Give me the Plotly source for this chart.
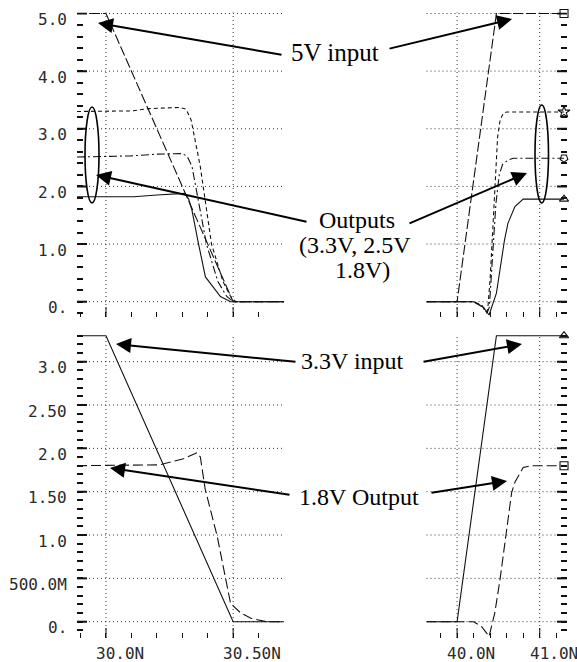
import plotly.graph_objects as go

W, H = 577, 662

# ---------------- waveform data (time in ns, voltage in V) ----------------
# falling edge around 30 ns (5 V input drive)
T5_FALL = [29.886, 30.0, 30.5, 30.70]
V5_FALL = [5.0, 5.0, 0.0, 0.0]
T33_FALL = [29.886, 30.10, 30.17, 30.29, 30.315, 30.335, 30.371, 30.415, 30.46, 30.49, 30.51, 30.70]
V33_FALL = [3.30, 3.31, 3.35, 3.37, 3.34, 3.15, 2.34, 1.00, 0.35, 0.09, 0.0, 0.0]
T25_FALL = [29.886, 30.10, 30.20, 30.30, 30.32, 30.338, 30.395, 30.44, 30.475, 30.50, 30.70]
V25_FALL = [2.51, 2.53, 2.56, 2.57, 2.52, 2.35, 1.00, 0.35, 0.09, 0.0, 0.0]
T18_FALL = [29.886, 30.11, 30.20, 30.29, 30.31, 30.325, 30.338, 30.364, 30.391, 30.45, 30.49, 30.70]
V18_FALL = [1.82, 1.82, 1.85, 1.88, 1.88, 1.78, 1.59, 1.00, 0.43, 0.09, 0.0, 0.0]

# rising edge around 40 ns (5 V input drive)
T5_RISE = [39.63, 40.0, 40.476, 41.294]
V5_RISE = [0.0, 0.0, 5.0, 5.0]
T33_RISE = [39.63, 40.2, 40.30, 40.35, 40.37, 40.40, 40.43, 40.46, 40.49, 40.52, 40.56, 40.60, 41.294]
V33_RISE = [0.0, 0.0, -0.06, -0.17, -0.15, 0.40, 1.20, 2.10, 2.85, 3.15, 3.27, 3.29, 3.29]
T25_RISE = [39.63, 40.2, 40.30, 40.36, 40.39, 40.43, 40.47, 40.51, 40.55, 40.62, 40.68, 41.294]
V25_RISE = [0.0, 0.0, -0.08, -0.20, -0.10, 0.80, 1.70, 2.20, 2.38, 2.46, 2.49, 2.49]
T18_RISE = [39.63, 40.2, 40.32, 40.387, 40.476, 40.515, 40.574, 40.615, 40.70, 40.80, 41.294]
V18_RISE = [0.0, 0.0, -0.10, -0.23, 0.15, 0.55, 1.07, 1.36, 1.65, 1.78, 1.78]

# 3.3 V input driving a 1.8 V output
T33IN_FALL = [29.886, 30.0, 30.5, 30.70]
V33IN_FALL = [3.3, 3.3, 0.0, 0.0]
T18OUT_FALL = [29.886, 30.21, 30.305, 30.358, 30.371, 30.39, 30.437, 30.47, 30.49, 30.53, 30.57, 30.63, 30.70]
V18OUT_FALL = [1.80, 1.81, 1.88, 1.95, 1.90, 1.53, 0.99, 0.485, 0.21, 0.10, 0.04, 0.0, 0.0]
T33IN_RISE = [39.63, 40.0, 40.476, 41.294]
V33IN_RISE = [0.0, 0.0, 3.3, 3.3]
T18OUT_RISE = [39.63, 40.2, 40.30, 40.387, 40.456, 40.52, 40.59, 40.66, 40.70, 40.80, 40.90, 41.294]
V18OUT_RISE = [0.0, 0.0, -0.06, -0.17, 0.10, 0.49, 0.99, 1.49, 1.61, 1.78, 1.80, 1.80]

# axis tick labels
TOP_YVALS = [0, 1, 2, 3, 4, 5]
TOP_YTEXT = ["0.", "1.0", "2.0", "3.0", "4.0", "5.0"]
BOT_YVALS = [0, 0.5, 1.0, 1.5, 2.0, 2.5, 3.0]
BOT_YTEXT = ["0.", "500.0M", "1.0", "1.50", "2.0", "2.50", "3.0"]
LEFT_XVALS = [30.0, 30.5]
LEFT_XTEXT = ["30.0N", "30.50N"]
RIGHT_XVALS = [40.0, 41.0]
RIGHT_XTEXT = ["40.0N", "41.0N"]

# ---------------- styling ----------------
INK = "#111111"
GRID = "#333333"
GRID_DASH = "1px,3px"
MONO = "DejaVu Sans Mono"
SERIF = "Liberation Serif"
DASH_5IN = "10px,3px"
DASH_33 = "4px,3px"
DASH_25 = "8px,3px,2px,3px"
DASH_18OUT = "10px,4px"


def px_x(p):
    return p / W


def px_y(p):
    return 1 - p / H


fig = go.Figure()


def add_line(t, v, dash, xa, ya, width=1.1):
    fig.add_trace(go.Scatter(x=t, y=v, mode="lines", xaxis=xa, yaxis=ya,
                             line=dict(color=INK, width=width, dash=dash),
                             hoverinfo="skip", showlegend=False))


def add_end_marker(t, v, symbol, xa, ya, size=8, angle=0):
    # open symbols take their outline colour from marker.color
    fig.add_trace(go.Scatter(x=[t[-1]], y=[v[-1]], mode="markers", xaxis=xa, yaxis=ya,
                             marker=dict(symbol=symbol, size=size, angle=angle, color=INK,
                                         line=dict(width=1.1)),
                             cliponaxis=False, hoverinfo="skip", showlegend=False))


# top-left: falling edge
add_line(T5_FALL, V5_FALL, DASH_5IN, "x", "y")
add_line(T33_FALL, V33_FALL, DASH_33, "x", "y")
add_line(T25_FALL, V25_FALL, DASH_25, "x", "y")
add_line(T18_FALL, V18_FALL, "solid", "x", "y")

# top-right: rising edge
add_line(T5_RISE, V5_RISE, DASH_5IN, "x2", "y2")
add_line(T33_RISE, V33_RISE, DASH_33, "x2", "y2")
add_line(T25_RISE, V25_RISE, DASH_25, "x2", "y2")
add_line(T18_RISE, V18_RISE, "solid", "x2", "y2")
add_end_marker(T5_RISE, V5_RISE, "square-open", "x2", "y2")
add_end_marker(T33_RISE, V33_RISE, "star-open", "x2", "y2", size=9)
add_end_marker(T25_RISE, V25_RISE, "pentagon-open", "x2", "y2", angle=180)
add_end_marker(T18_RISE, V18_RISE, "triangle-up-open", "x2", "y2")

# bottom-left / bottom-right: 3.3 V input, 1.8 V output
add_line(T33IN_FALL, V33IN_FALL, "solid", "x3", "y3")
add_line(T18OUT_FALL, V18OUT_FALL, DASH_18OUT, "x3", "y3")
add_line(T33IN_RISE, V33IN_RISE, "solid", "x4", "y4")
add_line(T18OUT_RISE, V18OUT_RISE, DASH_18OUT, "x4", "y4")
add_end_marker(T33IN_RISE, V33IN_RISE, "triangle-up-open", "x4", "y4")
add_end_marker(T18OUT_RISE, V18OUT_RISE, "square-open", "x4", "y4")

# ---------------- axes ----------------
X_LEFT_DOM = [px_x(77), px_x(284)]
X_RIGHT_DOM = [px_x(426.5), px_x(567)]
Y_TOP_DOM = [px_y(317), px_y(12.5)]
Y_BOT_DOM = [px_y(638), px_y(334.5)]

Y_TOP_RANGE = [-0.2654, 5.0174]
Y_BOT_RANGE = [-0.1881, 3.3138]
X_LEFT_RANGE = [29.886, 30.70]
X_RIGHT_RANGE = [39.63, 41.33]

# (x id, y id, x domain, y domain, x range, y range,
#  x majors, x minor step, y majors, y minor step, y side, x labels, y labels)
PANELS = [
    ("x", "y", X_LEFT_DOM, Y_TOP_DOM, X_LEFT_RANGE, Y_TOP_RANGE,
     LEFT_XVALS, 0.1, TOP_YVALS, 0.2, "left", None, TOP_YTEXT),
    ("x2", "y2", X_RIGHT_DOM, Y_TOP_DOM, X_RIGHT_RANGE, Y_TOP_RANGE,
     RIGHT_XVALS, 0.2, TOP_YVALS, 0.2, "right", None, None),
    ("x3", "y3", X_LEFT_DOM, Y_BOT_DOM, X_LEFT_RANGE, Y_BOT_RANGE,
     LEFT_XVALS, 0.1, BOT_YVALS, 0.1, "left", LEFT_XTEXT, BOT_YTEXT),
    ("x4", "y4", X_RIGHT_DOM, Y_BOT_DOM, X_RIGHT_RANGE, Y_BOT_RANGE,
     RIGHT_XVALS, 0.2, BOT_YVALS, 0.1, "right", RIGHT_XTEXT, None),
]


def axis_name(aid):
    return ("xaxis" if aid[0] == "x" else "yaxis") + aid[1:]


layout_axes = {}
shapes = []
annotations = []
tick_font = dict(family=MONO, size=16, color="#2a2a2a")

for (xid, yid, xdom, ydom, xr, yr, xmaj, xstep, ymaj, ystep, yside,
     xtext, ytext) in PANELS:
    # the axes themselves carry the short (minor) tick marks
    layout_axes[axis_name(xid)] = dict(
        domain=xdom, range=xr, anchor=yid, tickmode="linear", tick0=xmaj[0], dtick=xstep,
        ticks="inside", ticklen=5, tickwidth=1, tickcolor=INK, showticklabels=False,
        showgrid=False, zeroline=False, showline=False, automargin=False)
    layout_axes[axis_name(yid)] = dict(
        domain=ydom, range=yr, anchor=xid, side=yside, tickmode="linear", tick0=0,
        dtick=ystep, ticks="inside", ticklen=6, tickwidth=2, tickcolor=INK,
        showticklabels=False, showgrid=False, zeroline=False, showline=False,
        automargin=False)

    # dotted grid and long tick marks at the major values
    for v in xmaj:
        shapes.append(dict(type="line", xref=xid, yref=f"{yid} domain", x0=v, x1=v,
                           y0=0, y1=1, layer="below",
                           line=dict(color=GRID, width=1, dash=GRID_DASH)))
        shapes.append(dict(type="line", xref=xid, yref=f"{yid} domain", x0=v, x1=v,
                           ysizemode="pixel", yanchor=0, y0=0, y1=10,
                           line=dict(color=INK, width=1)))
    for v in ymaj:
        shapes.append(dict(type="line", xref=f"{xid} domain", yref=yid, x0=0, x1=1,
                           y0=v, y1=v, layer="below",
                           line=dict(color=GRID, width=1, dash=GRID_DASH)))
        edge = 0 if yside == "left" else 1
        shapes.append(dict(type="line", xref=f"{xid} domain", yref=yid,
                           xsizemode="pixel", xanchor=edge,
                           x0=0, x1=10 if yside == "left" else -10, y0=v, y1=v,
                           line=dict(color=INK, width=2)))

    # tick labels
    if ytext:
        for v, t in zip(ymaj, ytext):
            annotations.append(dict(x=px_x(69), xref="paper", y=v, yref=yid, text=t,
                                    xanchor="right", yanchor="middle", yshift=-6,
                                    showarrow=False, font=tick_font))
    if xtext:
        for v, t in zip(xmaj, xtext):
            annotations.append(dict(x=v, xref=xid, y=px_y(653), yref="paper", text=t,
                                    xanchor="left", yanchor="middle", xshift=-12,
                                    showarrow=False, font=tick_font))

fig.update_layout(template="none", **layout_axes)

# ---------------- callouts ----------------


def arrow(tail, tip):
    annotations.append(dict(
        x=px_x(tip[0]), y=px_y(tip[1]), xref="paper", yref="paper",
        ax=tail[0] - tip[0], ay=tail[1] - tip[1], axref="pixel", ayref="pixel",
        text="", showarrow=True, arrowhead=2, arrowsize=1.5, arrowwidth=2,
        arrowcolor="black", standoff=0, startstandoff=0))


def label(text, cx, cy, size=24):
    annotations.append(dict(
        x=px_x(cx), y=px_y(cy), xref="paper", yref="paper", text=text,
        showarrow=False, xanchor="center", yanchor="middle",
        font=dict(family=SERIF, size=size, color="black")))


label("5V input", 335, 52, size=25)
arrow((283, 55), (98, 23))
arrow((388, 49), (512, 19))

label("Outputs", 357, 220)
label("(3.3V, 2.5V", 355, 245)
label("1.8V)", 362, 270)
arrow((308, 222), (96, 175))
arrow((408, 224), (527, 173))

label("3.3V input", 352, 361)
arrow((297, 362), (116, 344))
arrow((422, 362), (522, 344))

label("1.8V Output", 359, 497)
arrow((291, 495), (110, 468))
arrow((430, 493), (507, 481))

# ellipses marking the output levels
shapes += [
    dict(type="circle", xref="paper", yref="paper",
         x0=px_x(85), x1=px_x(99), y0=px_y(203), y1=px_y(107),
         line=dict(color="black", width=1.6)),
    dict(type="circle", xref="paper", yref="paper",
         x0=px_x(535), x1=px_x(548.5), y0=px_y(203), y1=px_y(105),
         line=dict(color="black", width=1.6)),
]

fig.update_layout(annotations=annotations, shapes=shapes)
fig.update_layout(width=W, height=H, margin=dict(l=0, r=0, t=0, b=0),
                  paper_bgcolor="white", plot_bgcolor="white", showlegend=False)

fig.write_html("out.html", config={"displayModeBar": False})
